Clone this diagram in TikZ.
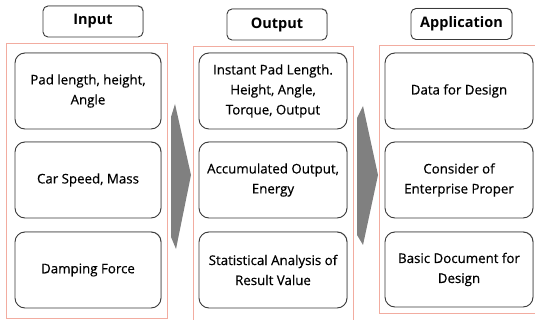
\documentclass[tikz,border=0pt]{standalone}
\usepackage{fontspec}
\setmainfont{Open Sans}
\newfontfamily\boxfont{Open Sans}[FakeBold=0.5]
\usetikzlibrary{shadows}
\definecolor{pinkline}{HTML}{F2ACA0}
\definecolor{boxline}{HTML}{3A3A3A}
\definecolor{arrowgray}{HTML}{808080}
\tikzset{
  container/.style={draw=pinkline, line width=0.8pt},
  itembox/.style={draw=boxline, line width=0.9pt, rounded corners=10pt, fill=white,
    align=center, inner sep=2pt, minimum height=76pt,
    font=\boxfont\fontsize{13.3}{20}\selectfont,
    drop shadow={shadow xshift=0.6pt, shadow yshift=0.6pt, fill=black!45, opacity=0.6}},
  headbox/.style={draw=boxline, line width=0.9pt, rounded corners=5pt, fill=white,
    minimum width=100pt, minimum height=31pt, inner sep=0pt,
    font=\fontsize{14.5}{16}\selectfont\bfseries,
    drop shadow={shadow xshift=0.6pt, shadow yshift=0.6pt, fill=black!45, opacity=0.6}},
  bigarrow/.style={fill=arrowgray, draw=none}
}
\begin{document}
\begin{tikzpicture}[x=1pt,y=-1pt]
\useasboundingbox (0,0) rectangle (535,320);
% containers
\draw[container] (6,43) rectangle (167,318);
\draw[container] (193,46) rectangle (353,326);
\draw[container] (379,45) rectangle (540,313);
% headers
\node[headbox] (hin) at (93,21.5) {Input};
\node[headbox] (hout) at (277,24.5) {Output};
\node[headbox, minimum width=101pt] (happ) at (461.5,24) {Application};
% input boxes
\node[itembox, minimum width=146pt] (in1) at (88,91) {Pad length, height,\\Angle};
\node[itembox, minimum width=146pt] (in2) at (88,180) {Car Speed, Mass};
\node[itembox, minimum width=146pt] (in3) at (88,270) {Damping Force};
% output boxes
\node[itembox, minimum width=148pt] (out1) at (273,91) {Instant Pad Length.\\Height, Angle,\\Torque, Output};
\node[itembox, minimum width=148pt] (out2) at (273,180) {Accumulated Output,\\Energy};
\node[itembox, minimum width=148pt] (out3) at (273,270) {Statistical Analysis of\\Result Value};
% application boxes
\node[itembox, minimum width=148pt] (app1) at (459,91) {Data for Design};
\node[itembox, minimum width=148pt] (app2) at (459,180) {Consider of\\Enterprise Proper};
\node[itembox, minimum width=148pt, minimum height=75pt] (app3) at (459,269.5) {Basic Document for\\Design};
% arrows
\fill[bigarrow] (171,117) -- (175,104) -- (191,175) -- (176,249) -- (171,237) -- cycle;
\fill[bigarrow] (357,118) -- (363,106) -- (378,175) -- (363,245) -- (357,235) -- cycle;
\end{tikzpicture}
\end{document}
